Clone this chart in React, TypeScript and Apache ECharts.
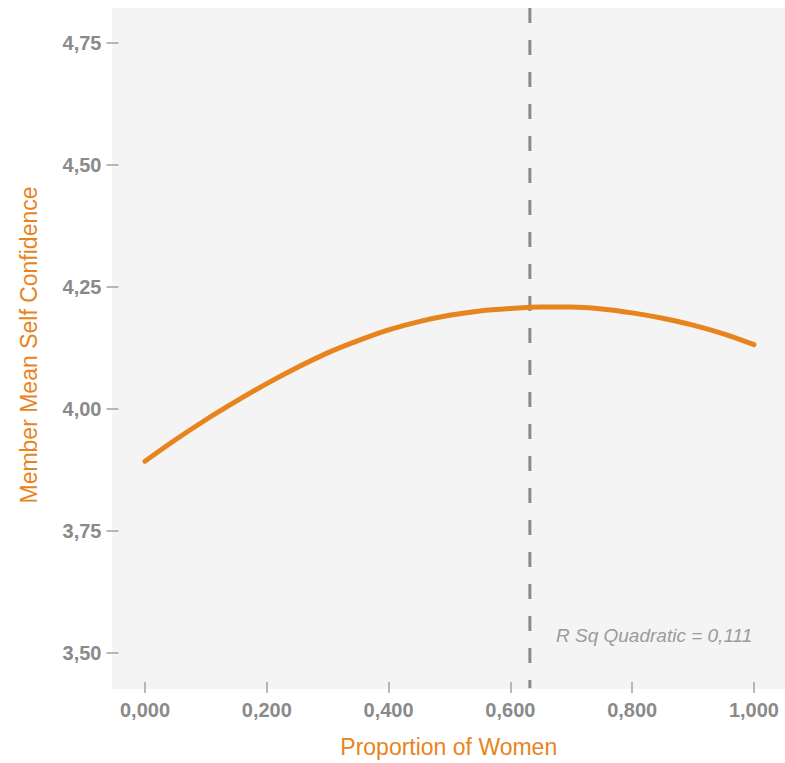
import React, { useEffect, useRef } from "react";
import * as echarts from "echarts";

// Fitted quadratic curve
const proportionWomen = [
  0.0, 0.05, 0.1, 0.15, 0.2, 0.25, 0.3, 0.35, 0.4, 0.45, 0.5,
  0.55, 0.6, 0.65, 0.7, 0.75, 0.8, 0.85, 0.9, 0.95, 1.0,
];
const meanSelfConfidence = [
  3.893, 3.937, 3.978, 4.016, 4.052, 4.085, 4.115, 4.140, 4.162, 4.179, 4.192,
  4.201, 4.206, 4.209, 4.209, 4.205, 4.197, 4.186, 4.172, 4.154, 4.132,
];

// Vertical reference (dashed) line
const referenceX = 0.632;
const referenceYRange = [4.8217, 3.428];

// Axis ranges and tick values
const xRange = [-0.0435, 1.0411];
const yRange = [3.4406, 4.8217];
const xTickValues = [0, 0.2, 0.4, 0.6, 0.8, 1.0];
const yTickValues = [3.5, 3.75, 4.0, 4.25, 4.5, 4.75];

const rSqLabel = "R Sq Quadratic = 0,111";
const xTitle = "Proportion of Women";
const yTitle = "Member Mean Self Confidence";

const ORANGE = "#e8841e";
const GRAY_TEXT = "#8a8a8a";
const FONT = "'Liberation Sans', Arial, Helvetica, sans-serif";

export default function App() {
  const ref = useRef<HTMLDivElement>(null);

  useEffect(() => {
    if (!ref.current) return;
    const chart = echarts.init(ref.current, undefined, { renderer: "svg" });
    const curve = proportionWomen.map((x, i) => [x, meanSelfConfidence[i]]);
    const dashed = referenceYRange.map((y) => [referenceX, y]);

    chart.setOption({
      animation: false,
      backgroundColor: "#ffffff",
      grid: { left: 118.5, right: 6, top: 8, bottom: 81, containLabel: false },
      graphic: [
        {
          type: "rect",
          z: -10,
          silent: true,
          shape: { x: 112, y: 8, width: 673, height: 681 },
          style: { fill: "#f4f4f4" },
        },
        {
          type: "text",
          z: 10,
          x: 556,
          y: 635,
          style: {
            text: rSqLabel,
            fontFamily: FONT,
            fontSize: 19,
            fontStyle: "italic",
            fill: "#9b9b9b",
            verticalAlign: "middle",
            align: "left",
          },
        },
      ],
      xAxis: {
        type: "value",
        min: xRange[0],
        max: xRange[1],
        name: xTitle,
        nameLocation: "middle",
        nameGap: 53,
        nameTextStyle: { color: ORANGE, fontSize: 23, fontFamily: FONT },
        axisLine: { show: false, onZero: false },
        axisTick: {
          show: true,
          length: 11,
          customValues: xTickValues,
          lineStyle: { color: "#a0a0a0", width: 1.5 },
        },
        splitLine: { show: false },
        axisLabel: {
          margin: 18,
          customValues: xTickValues,
          color: GRAY_TEXT,
          fontSize: 20,
          fontWeight: "bold",
          fontFamily: FONT,
          formatter: (v: number) => v.toFixed(3).replace(".", ","),
        },
      },
      yAxis: {
        type: "value",
        min: yRange[0],
        max: yRange[1],
        name: yTitle,
        nameLocation: "middle",
        nameGap: 78,
        nameTextStyle: { color: ORANGE, fontSize: 23, fontFamily: FONT },
        axisLine: { show: false, onZero: false },
        axisTick: {
          show: true,
          length: 12,
          customValues: yTickValues,
          lineStyle: { color: "#a0a0a0", width: 1.5 },
        },
        splitLine: { show: false },
        axisLabel: {
          margin: 17,
          customValues: yTickValues,
          color: GRAY_TEXT,
          fontSize: 20,
          fontWeight: "bold",
          fontFamily: FONT,
          formatter: (v: number) => v.toFixed(2).replace(".", ","),
        },
      },
      series: [
        {
          type: "line",
          data: dashed,
          clip: false,
          silent: true,
          symbol: "none",
          lineStyle: { color: "#8a8a8a", width: 3, type: [15, 17] },
          z: 2,
        },
        {
          type: "line",
          data: curve,
          smooth: 0.3,
          symbol: "none",
          lineStyle: { color: ORANGE, width: 5, cap: "round" },
          z: 3,
        },
      ],
    });
    return () => chart.dispose();
  }, []);

  return (
    <div
      ref={ref}
      style={{ position: "absolute", left: 0, top: 0, width: 785, height: 763 }}
    />
  );
}
